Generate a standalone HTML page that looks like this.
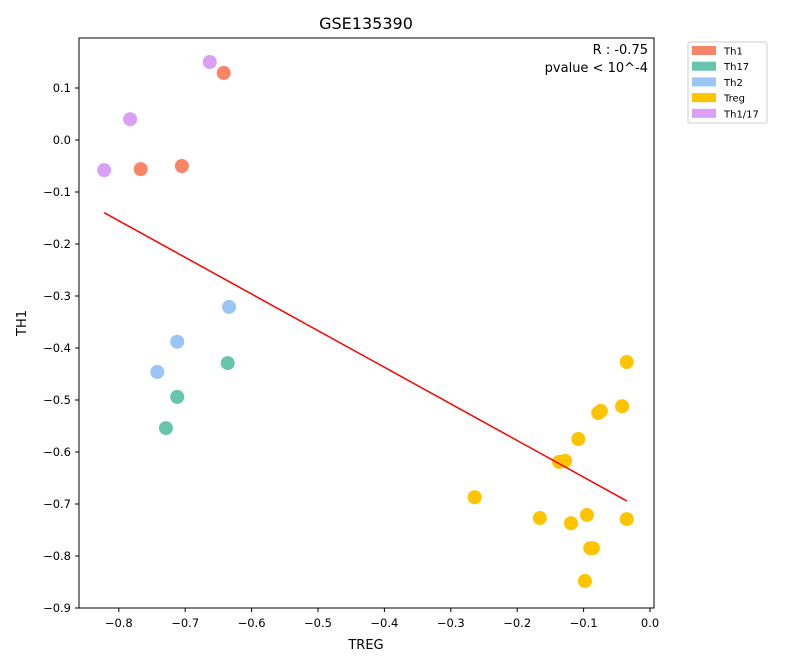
<!DOCTYPE html>
<html><head><meta charset="utf-8"><style>
body{margin:0;background:#fff;font-family:"Liberation Sans","DejaVu Sans",sans-serif}
</style></head><body>
<svg id="chart" width="800" height="666" xmlns="http://www.w3.org/2000/svg" font-family="DejaVu Sans, Liberation Sans, sans-serif">
<rect width="800" height="666" fill="#fff"/>
<text x="366" y="29" font-size="16" text-anchor="middle">GSE135390</text>
<g id="plot"></g>
<rect x="79" y="38" width="575" height="570" fill="none" stroke="#000" stroke-width="1"/>
<text x="648" y="54" font-size="13" text-anchor="end">R : -0.75</text>
<text x="648" y="72" font-size="13" text-anchor="end">pvalue &lt; 10^-4</text>
<text x="366" y="649" font-size="13" text-anchor="middle">TREG</text>
<text x="26" y="323" font-size="13" text-anchor="middle" transform="rotate(-90 26 323)">TH1</text>
<g>
<rect x="688" y="42" width="79" height="81" fill="#fff" stroke="#ccc" rx="2"/>
<g id="legend"></g>
</g>
</svg>
<script>
const xTicks=[-0.8,-0.7,-0.6,-0.5,-0.4,-0.3,-0.2,-0.1,0.0];
const yTicks=[0.1,0.0,-0.1,-0.2,-0.3,-0.4,-0.5,-0.6,-0.7,-0.8,-0.9];
const groups=["Th1","Th17","Th2","Treg","Th1/17"];
const colors=["#fa8566","#66c5ab","#99c5f7","#ffc400","#d9a0f5"];
const th1X=[-0.642,-0.767,-0.705];
const th1Y=[0.129,-0.056,-0.050];
const th17X=[-0.636,-0.712,-0.729];
const th17Y=[-0.429,-0.494,-0.554];
const th2X=[-0.634,-0.712,-0.742];
const th2Y=[-0.321,-0.388,-0.446];
const tregX=[-0.035,-0.042,-0.074,-0.078,-0.108,-0.128,-0.137,-0.264,-0.166,-0.119,-0.095,-0.035,-0.090,-0.086,-0.098];
const tregY=[-0.427,-0.512,-0.521,-0.525,-0.575,-0.617,-0.619,-0.687,-0.727,-0.737,-0.721,-0.729,-0.785,-0.785,-0.848];
const th117X=[-0.663,-0.783,-0.822];
const th117Y=[0.150,0.040,-0.058];
const NS="http://www.w3.org/2000/svg";
const xs=v=>650+v*664, ys=v=>140-v*520;
const plot=document.getElementById('plot');
function mk(t,a){const e=document.createElementNS(NS,t);for(const k in a)e.setAttribute(k,a[k]);return e;}
xTicks.forEach(t=>{const x=xs(t);
 const l=mk('line',{x1:x,x2:x,y1:608,y2:612,stroke:'#000'});
 
 plot.appendChild(l);
 const tx=mk('text',{x:x,y:627,'font-size':11.5,'text-anchor':'middle'});tx.textContent=t.toFixed(1).replace('-','−');
 
 plot.appendChild(tx);});
yTicks.forEach(t=>{const y=ys(t);
 const l=mk('line',{x1:75,x2:79,y1:y,y2:y,stroke:'#000'});
 
 plot.appendChild(l);
 const tx=mk('text',{x:71,y:y+4,'font-size':11.5,'text-anchor':'end'});tx.textContent=t.toFixed(1).replace('-','−');
 
 plot.appendChild(tx);});
const sets=[[th1X,th1Y],[th17X,th17Y],[th2X,th2Y],[tregX,tregY],[th117X,th117Y]];
let ax=[],ay=[];
sets.forEach((s,i)=>{s[0].forEach((x,j)=>{ax.push(x);ay.push(s[1][j]);
 const c=mk('circle',{cx:xs(x),cy:ys(s[1][j]),r:7,fill:colors[i]});
 
 plot.appendChild(c);});});
const n=ax.length,mx=ax.reduce((a,b)=>a+b)/n,my=ay.reduce((a,b)=>a+b)/n;
let sxy=0,sxx=0;for(let i=0;i<n;i++){sxy+=(ax[i]-mx)*(ay[i]-my);sxx+=(ax[i]-mx)**2;}
const b=sxy/sxx,a=my-b*mx,x0=Math.min(...ax),x1=Math.max(...ax);
const ln=mk('line',{x1:xs(x0),y1:ys(a+b*x0),x2:xs(x1),y2:ys(a+b*x1),stroke:'#f00','stroke-width':1.5});

plot.appendChild(ln);
const lg=document.getElementById('legend');
groups.forEach((g,i)=>{const y=46+i*15.7;
 const r=mk('rect',{x:692,y:y,width:24,height:9,fill:colors[i]});
 
 lg.appendChild(r);
 const t=mk('text',{x:724,y:y+8.5,'font-size':10});t.textContent=g;
 
 lg.appendChild(t);});
</script>
</body></html>
